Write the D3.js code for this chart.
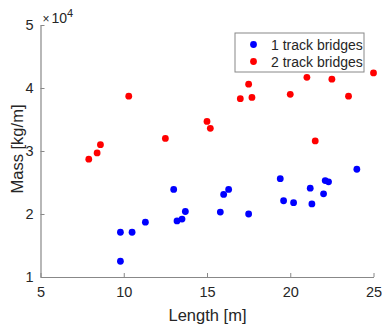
<!DOCTYPE html>
<html>
<head>
<meta charset="utf-8">
<script src="https://cdn.jsdelivr.net/npm/d3@7"></script>
<style>
  body { margin: 0; background: #fff; }
  svg text { font-family: "Liberation Sans", Arial, sans-serif; fill: #262626; }
</style>
</head>
<body>
<div id="chart"></div>
<script>
// Bridge length vs mass per metre
const oneTrackLength = [9.8, 9.8, 10.5, 11.3, 13.0, 13.2, 13.5, 13.7, 15.8, 16.0, 16.3, 17.5, 19.4, 19.6, 20.2, 21.2, 21.3, 22.0, 22.1, 22.3, 24.0];
const oneTrackMass   = [17100, 12500, 17100, 18700, 23900, 18900, 19200, 20400, 20300, 23100, 23900, 20000, 25600, 22100, 21800, 24100, 21600, 23200, 25300, 25100, 27100];
const twoTrackLength = [7.9, 8.4, 8.6, 10.3, 12.5, 15.0, 15.2, 17.0, 17.5, 17.7, 20.0, 21.0, 21.5, 22.5, 23.5, 25.0];
const twoTrackMass   = [28700, 29700, 31000, 38700, 32000, 34700, 33600, 38300, 40600, 38500, 39000, 41700, 31600, 41400, 38700, 42400];
const xTicks = [5, 10, 15, 20, 25];
const yTicks = [1, 2, 3, 4, 5];
const seriesNames = ["1 track bridges", "2 track bridges"];
const seriesColors = ["#0000ff", "#ff0000"];

const width = 382, height = 329;
const margin = { left: 40.5, right: 8.5, top: 25, bottom: 52 };

const svg = d3.select("#chart").append("svg")
    .attr("width", width)
    .attr("height", height);

const x = d3.scaleLinear().domain([5, 25]).range([margin.left, width - margin.right]);
const y = d3.scaleLinear().domain([10000, 50000]).range([height - margin.bottom, margin.top]);

// Axes (MATLAB style: ticks pointing inward, box off)
const xAxis = svg.append("g")
    .attr("transform", `translate(0,${height - margin.bottom})`)
    .call(d3.axisBottom(x).tickValues(xTicks).tickSizeInner(-4).tickSizeOuter(0).tickPadding(10));
const yAxis = svg.append("g")
    .attr("transform", `translate(${margin.left},0)`)
    .call(d3.axisLeft(y).tickValues(yTicks.map(v => v * 10000)).tickFormat(v => v / 10000)
        .tickSizeInner(-4).tickSizeOuter(0).tickPadding(7));

[xAxis, yAxis].forEach(a => {
    a.select(".domain").attr("stroke", "#888").attr("stroke-width", 1.2);
    a.selectAll(".tick line").attr("stroke", "#888").attr("stroke-width", 1);
    a.selectAll(".tick text").attr("font-size", 14.5).attr("fill", "#262626")
        .style("font-family", "'Liberation Sans', Arial, sans-serif");
});

// exponent label
const expo = svg.append("text")
    .attr("x", margin.left + 2)
    .attr("y", 23)
    .attr("font-size", 14);
expo.append("tspan").attr("font-size", 12).text("\u00d7");
expo.append("tspan").attr("dx", 2).text("10");
expo.append("tspan").attr("font-size", 11).attr("dy", -6).text("4");

// axis titles
svg.append("text")
    .attr("x", x(15) + 0.5)
    .attr("y", 321)
    .attr("text-anchor", "middle")
    .attr("font-size", 16.5)
    .text("Length [m]");

svg.append("text")
    .attr("transform", `translate(23,${y(30000) - 2}) rotate(-90)`)
    .attr("text-anchor", "middle")
    .attr("font-size", 16.5)
    .text("Mass [kg/m]");

// points
function drawSeries(lengths, masses, color) {
    svg.append("g")
        .selectAll("circle")
        .data(lengths.map((l, i) => [l, masses[i]]))
        .join("circle")
        .attr("cx", d => x(d[0]))
        .attr("cy", d => y(d[1]))
        .attr("r", 3.4)
        .attr("fill", color);
}
drawSeries(oneTrackLength, oneTrackMass, seriesColors[0]);
drawSeries(twoTrackLength, twoTrackMass, seriesColors[1]);

// legend
const legend = svg.append("g").attr("transform", "translate(235,33)");
legend.append("rect")
    .attr("width", 129)
    .attr("height", 39)
    .attr("fill", "#fff")
    .attr("stroke", "#888")
    .attr("stroke-width", 1);
seriesNames.forEach((name, i) => {
    const row = legend.append("g").attr("transform", `translate(0,${11.5 + i * 17})`);
    row.append("circle").attr("cx", 18.5).attr("cy", 0).attr("r", 3.4).attr("fill", seriesColors[i]);
    row.append("text").attr("x", 36).attr("y", 5).attr("font-size", 14).text(name);
});
</script>
</body>
</html>
